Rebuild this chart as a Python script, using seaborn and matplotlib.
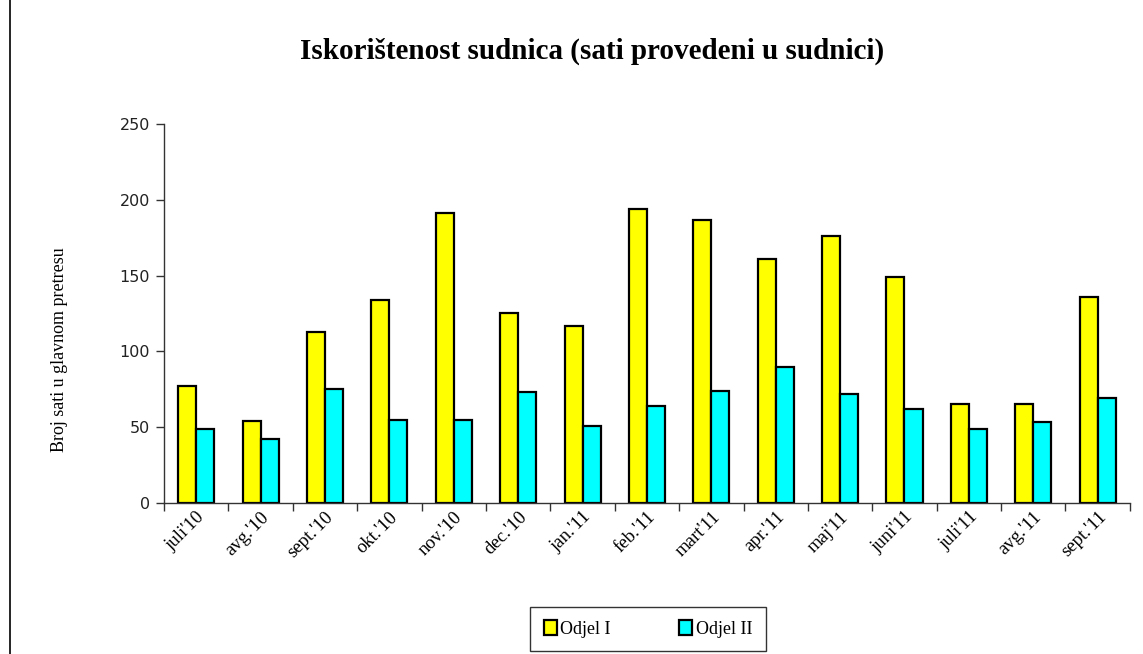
import pandas as pd
import matplotlib.pyplot as plt
from matplotlib.lines import Line2D
from matplotlib.ticker import FixedLocator
import seaborn as sns

months = ["juli'10", "avg.'10", "sept.'10", "okt.'10", "nov.'10", "dec.'10", "jan.'11",
          "feb.'11", "mart'11", "apr.'11", "maj'11", "juni'11", "juli'11", "avg.'11", "sept.'11"]
odjel_1 = [77, 54, 113, 134, 191, 125, 117, 194, 187, 161, 176, 149, 65, 65.5, 136]
odjel_2 = [49, 42, 75, 55, 55, 73, 51, 64, 74, 90, 72, 62, 49, 53.5, 69]
series = ["Odjel I", "Odjel II"]
colors = ["#FFFF00", "#00FFFF"]

df = pd.DataFrame({
    "mjesec": months * 2,
    "sati": odjel_1 + odjel_2,
    "odjel": [series[0]] * len(months) + [series[1]] * len(months),
})

sns.set_theme(style="white")
plt.rcParams["font.family"] = ["Liberation Serif", "DejaVu Serif"]
plt.rcParams["text.color"] = "black"
plt.rcParams["xtick.color"] = "black"
plt.rcParams["ytick.color"] = "#222222"

fig = plt.figure(figsize=(11.43, 6.54), dpi=100)
ax = fig.add_axes([0.1435, 0.2309, 0.845, 0.5795])

sns.barplot(data=df, x="mjesec", y="sati", hue="odjel", palette=colors, saturation=1,
            edgecolor="black", linewidth=1.6, width=0.56, ax=ax, legend=True)

ax.set_ylim(0, 250)
ax.set_xlim(-0.5, len(months) - 0.5)
ax.set_yticks([0, 50, 100, 150, 200, 250])
ax.set_yticklabels(["0", "50", "100", "150", "200", "250"], family="DejaVu Sans", fontsize=11.5)
ax.tick_params(axis="y", direction="out", length=6, width=1, color="#333333", left=True, pad=4)
ax.tick_params(axis="x", which="major", length=0, pad=4)
ax.xaxis.set_minor_locator(FixedLocator([i - 0.5 for i in range(len(months) + 1)]))
ax.tick_params(axis="x", which="minor", direction="out", length=6, width=1, color="#333333", bottom=True)
plt.setp(ax.get_xticklabels(), rotation=45, ha="right", rotation_mode="anchor", fontsize=13.5)

for side in ["top", "right"]:
    ax.spines[side].set_visible(False)
for side in ["left", "bottom"]:
    ax.spines[side].set_color("#333333")
    ax.spines[side].set_linewidth(1)

ax.set_xlabel("")
ax.set_ylabel("")
fig.text(60 / 1143, 1 - 350 / 654, "Broj sati u glavnom pretresu", rotation=90,
         ha="center", va="center", fontsize=13)
fig.text(592 / 1143, 1 - 51 / 654, "Iskorištenost sudnica (sati provedeni u sudnici)",
         ha="center", va="center", fontsize=21, fontweight="bold")

handles, labels = ax.get_legend_handles_labels()
ax.legend_.remove()
leg = fig.legend(handles, labels, loc="center", bbox_to_anchor=(648 / 1143, 1 - 629 / 654),
                 ncol=2, frameon=True, fancybox=False, edgecolor="black", fontsize=13,
                 handlelength=0.7, handleheight=0.9, handletextpad=0.2, columnspacing=3.8,
                 borderpad=0.75, borderaxespad=0)
leg.get_frame().set_linewidth(1)

fig.add_artist(Line2D([10 / 1143, 10 / 1143], [0, 1], color="black", linewidth=1.2))

fig.savefig("out.png", dpi=100)
